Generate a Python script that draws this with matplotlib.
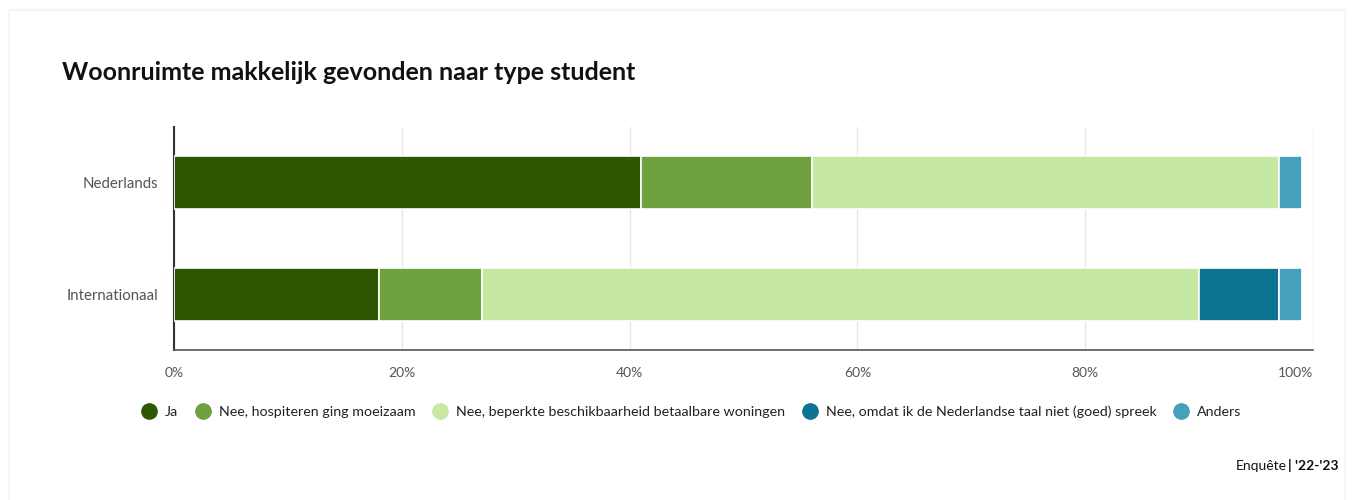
import matplotlib.pyplot as plt
from matplotlib.patches import Rectangle
from matplotlib.lines import Line2D

plt.rcParams['font.family'] = ['Lato', 'DejaVu Sans']

groups = ['Nederlands', 'Internationaal']
series = [
    'Ja',
    'Nee, hospiteren ging moeizaam',
    'Nee, beperkte beschikbaarheid betaalbare woningen',
    'Nee, omdat ik de Nederlandse taal niet (goed) spreek',
    'Anders',
]
values = [
    [41, 18],
    [15, 9],
    [41, 63],
    [0, 7],
    [2, 2],
]
colors = ['#2e5704', '#6fa23e', '#c6e8a3', '#0c7391', '#45a0bb']
xticks = [0, 20, 40, 60, 80, 100]
xticklabels = ['0%', '20%', '40%', '60%', '80%', '100%']

W, H = 1354, 500
fig = plt.figure(figsize=(W / 100, H / 100), dpi=100)
fig.patch.set_facecolor('white')

# faint card edge
fig.patches.append(Rectangle((9 / W, -0.05), (W - 18) / W, (H - 10) / H + 0.05,
                             transform=fig.transFigure, facecolor='white',
                             edgecolor='#f5f5f5', linewidth=1.5, zorder=-5))

ax = fig.add_axes([174 / W, 1 - 350 / H, (1313 - 174) / W, (350 - 127) / H])
ax.set_zorder(2)
ax.set_facecolor('white')

left = [0, 0]
for name, vals, c in zip(series, values, colors):
    ax.barh(range(len(groups)), vals, left=left, height=0.475, color=c,
            edgecolor='white', linewidth=1.2, label=name, zorder=3)
    left = [l + v for l, v in zip(left, vals)]

ax.set_ylim(1.5, -0.5)
ax.set_xlim(0, 100)
ax.set_yticks(range(len(groups)))
ax.set_yticklabels(groups)
ax.set_xticks(xticks)
ax.set_xticklabels(xticklabels)
ax.get_xticklabels()[-1].set_horizontalalignment('right')
ax.tick_params(axis='both', length=0, labelcolor='#555555')
ax.tick_params(axis='x', pad=12, labelsize=10)
ax.tick_params(axis='y', pad=11, labelsize=10.8)
ax.grid(axis='x', color='#e6e6e6', linewidth=1, zorder=0)
for s in ['top', 'right']:
    ax.spines[s].set_visible(False)
ax.spines['left'].set_color('#333333')
ax.spines['left'].set_linewidth(1.5)
ax.spines['bottom'].set_color('#555555')
ax.spines['bottom'].set_linewidth(1.2)

fig.text(62 / W, 1 - 72 / H, 'Woonruimte makkelijk gevonden naar type student',
         fontsize=18, fontweight='bold', color='#111111', va='center', ha='left')

handles = [Line2D([0], [0], marker='o', linestyle='', markersize=11,
                  markerfacecolor=c, markeredgecolor=c) for c in colors]
fig.legend(handles, series, loc='center', bbox_to_anchor=(688 / W, 1 - 412 / H),
           ncol=5, frameon=False, fontsize=10.3, handletextpad=0.1,
           columnspacing=0.75, labelcolor='#222222')

# footer: regular "Enquête " followed by bold "| '22-'23"
bold = fig.text(1339 / W, 1 - 466 / H, "| '22-'23", fontsize=10, fontweight='bold',
                color='#111111', ha='right', va='center')
r = fig.canvas.get_renderer()
bw = bold.get_window_extent(renderer=r).width
fig.text((1339 - bw - 2) / W, 1 - 466 / H, "Enquête", fontsize=10,
         color='#111111', ha='right', va='center')

fig.savefig('out.png', dpi=100, facecolor='white')
